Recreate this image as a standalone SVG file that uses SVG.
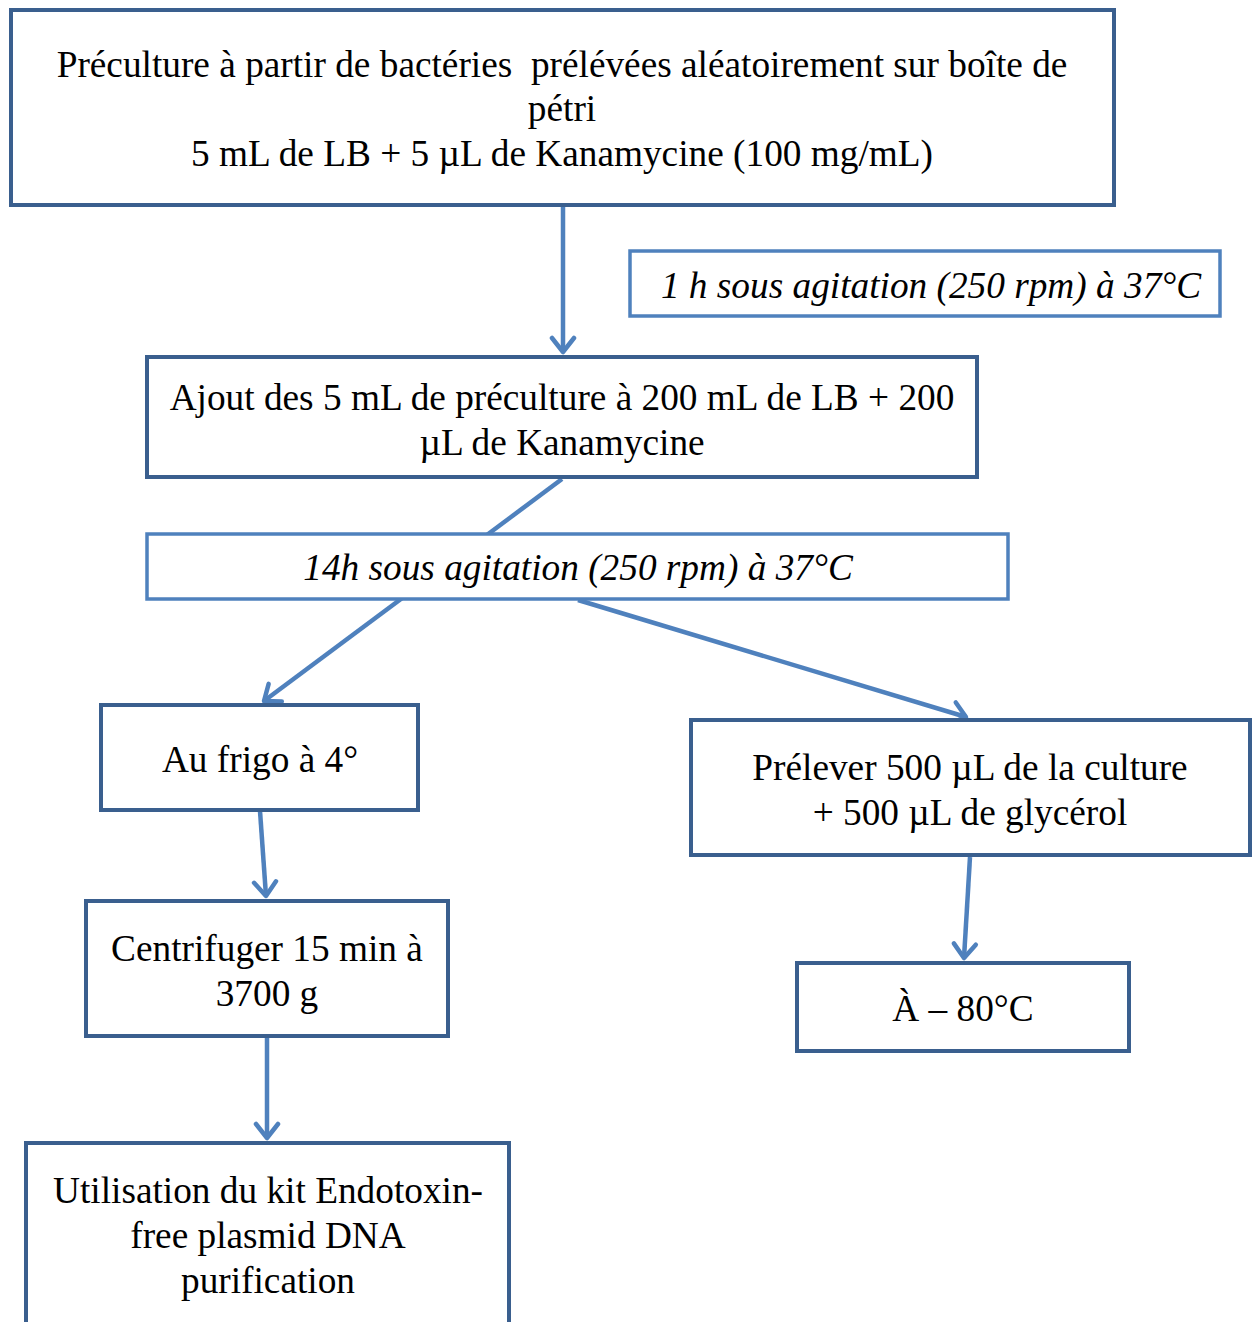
<svg xmlns="http://www.w3.org/2000/svg" width="1257" height="1322" viewBox="0 0 1257 1322">
<defs>
<style>
.box{fill:#fff;stroke:#3A5F8E;stroke-width:4}
.lbox{fill:#fff;stroke:#4F81BD;stroke-width:3.5}
.t{font-family:"Liberation Serif","Times New Roman",serif;font-size:37.3px;fill:#000;text-anchor:middle}
.i{font-style:italic}
.c{stroke:#4F81BD;stroke-width:4.5;fill:none}
</style>
<marker id="ah" viewBox="0 0 20 28" refX="17" refY="14" markerWidth="20" markerHeight="28" markerUnits="userSpaceOnUse" orient="auto">
<path d="M3,3 L17,14 L3,25" fill="none" stroke="#4F81BD" stroke-width="4.5" stroke-linecap="round" stroke-linejoin="round"/>
</marker>
</defs>
<rect width="1257" height="1322" fill="#fff"/>
<g id="connectors">
<line class="c" x1="563" y1="207" x2="563" y2="352" marker-end="url(#ah)"/>
<line class="c" x1="562" y1="479" x2="264" y2="701" marker-end="url(#ah)"/>
<line class="c" x1="578" y1="600" x2="966" y2="717" marker-end="url(#ah)"/>
<line class="c" x1="260" y1="811" x2="266" y2="896" marker-end="url(#ah)"/>
<line class="c" x1="970" y1="857" x2="964" y2="958" marker-end="url(#ah)"/>
<line class="c" x1="267" y1="1038" x2="267" y2="1138" marker-end="url(#ah)"/>
</g>
<g id="n1">
<rect class="box" x="11" y="10" width="1103" height="195"/>
<text class="t" x="562" y="77" xml:space="preserve">Préculture à partir de bactéries  prélévées aléatoirement sur boîte de</text>
<text class="t" x="562" y="121">pétri</text>
<text class="t" x="562" y="166">5 mL de LB + 5 µL de Kanamycine (100 mg/mL)</text>
</g>
<g id="n2">
<rect class="lbox" x="630" y="251" width="590" height="65"/>
<text class="t i" x="931" y="298">1 h sous agitation (250 rpm) à 37°C</text>
</g>
<g id="n3">
<rect class="box" x="147" y="357" width="830" height="120"/>
<text class="t" x="562" y="410">Ajout des 5 mL de préculture à 200 mL de LB + 200</text>
<text class="t" x="562" y="455">µL de Kanamycine</text>
</g>
<g id="n4">
<rect class="lbox" x="147" y="534" width="861" height="65"/>
<text class="t i" x="578" y="580">14h sous agitation (250 rpm) à 37°C</text>
</g>
<g id="n5">
<rect class="box" x="101" y="705" width="317" height="105"/>
<text class="t" x="260" y="772">Au frigo à 4°</text>
</g>
<g id="n6">
<rect class="box" x="691" y="720" width="559" height="135"/>
<text class="t" x="970" y="780">Prélever 500 µL de la culture</text>
<text class="t" x="970" y="825">+ 500 µL de glycérol</text>
</g>
<g id="n7">
<rect class="box" x="86" y="901" width="362" height="135"/>
<text class="t" x="267" y="961">Centrifuger 15 min à</text>
<text class="t" x="267" y="1006">3700 g</text>
</g>
<g id="n8">
<rect class="box" x="797" y="963" width="332" height="88"/>
<text class="t" x="963" y="1021">À – 80°C</text>
</g>
<g id="n9">
<rect class="box" x="26" y="1143" width="483" height="200"/>
<text class="t" x="268" y="1203">Utilisation du kit Endotoxin-</text>
<text class="t" x="268" y="1248">free plasmid DNA</text>
<text class="t" x="268" y="1293">purification</text>
</g>
</svg>
